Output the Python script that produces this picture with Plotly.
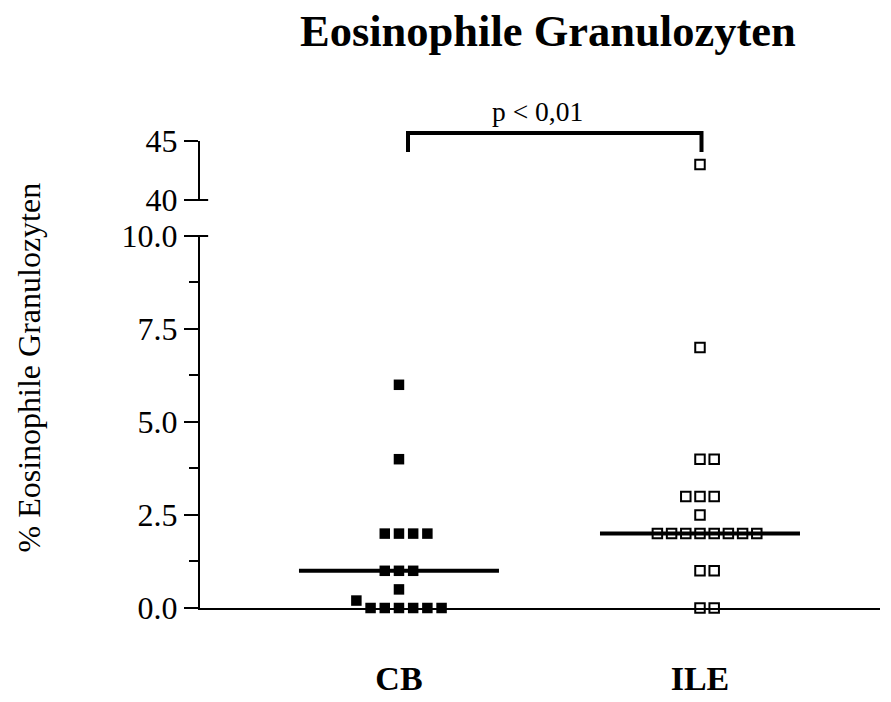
import numpy as np
import plotly.graph_objects as go

# ---------------- data ----------------
categories = ["CB", "ILE"]
cb_values = [6, 4, 2, 2, 2, 2, 1, 1, 1, 0.5, 0, 0, 0, 0, 0, 0, 0.2]
ile_values = [43, 7, 4, 4, 3, 3, 3, 2.5, 2, 2, 2, 2, 2, 2, 2, 2, 1, 1, 0, 0]
lower_ticks = [0, 2.5, 5.0, 7.5, 10.0]
upper_ticks = [40, 45]
title_text = "Eosinophile Granulozyten"
y_title_text = "% Eosinophile Granulozyten"
p_text = "p < 0,01"

# ---------------- layout geometry ----------------
W, H = 891, 702
ML, MR, MT, MB = 200, 11, 141, 94
PW, PH = W - ML - MR, H - MT - MB
LOW_RANGE = [0, 10]
UP_RANGE = [40, 45]
LOW_DOM = [0, 0.7966]
UP_DOM = [0.8737, 1.0]
BREAK = 10
XRANGE = [0.339, 2.598]
x_per_px = (XRANGE[1] - XRANGE[0]) / PW
SLOT = 14.2 * x_per_px
MEDIAN_HALF = 100 * x_per_px
MARK_PX = 11.5


def value_to_px(v):
    if v <= BREAK:
        dom, rng = LOW_DOM, LOW_RANGE
    else:
        dom, rng = UP_DOM, UP_RANGE
    frac = dom[0] + (dom[1] - dom[0]) * (v - rng[0]) / (rng[1] - rng[0])
    return frac * PH


def swarm_offsets(values):
    placed = []
    offs = []
    for v in values:
        ypx = value_to_px(v)
        k = 0
        while True:
            cand = 0 if k == 0 else ((k + 1) // 2 if k % 2 == 1 else -(k // 2))
            if all(not (s == cand and abs(y - ypx) < MARK_PX) for s, y in placed):
                break
            k += 1
        placed.append((cand, ypx))
        offs.append(cand * SLOT)
    return offs


fig = go.Figure()

groups = [
    (cb_values, dict(symbol="square", size=10.5, color="black")),
    (ile_values, dict(symbol="square-open", size=9.5, color="black", line=dict(width=2, color="black"))),
]

for i, (vals, mk) in enumerate(groups):
    center = i + 1
    med = float(np.median(vals))
    fig.add_trace(go.Scatter(
        x=[center - MEDIAN_HALF, center + MEDIAN_HALF], y=[med, med],
        mode="lines", line=dict(color="black", width=4),
        xaxis="x", yaxis="y", showlegend=False, hoverinfo="skip"))
    offs = swarm_offsets(vals)
    xs = [center + o for o in offs]
    lo_x = [x for x, v in zip(xs, vals) if v <= BREAK]
    lo_y = [v for v in vals if v <= BREAK]
    hi_x = [x for x, v in zip(xs, vals) if v > BREAK]
    hi_y = [v for v in vals if v > BREAK]
    fig.add_trace(go.Scatter(x=lo_x, y=lo_y, mode="markers", marker=mk,
                             xaxis="x", yaxis="y", cliponaxis=False,
                             showlegend=False, name=categories[i]))
    if hi_y:
        fig.add_trace(go.Scatter(x=hi_x, y=hi_y, mode="markers", marker=mk,
                                 xaxis="x", yaxis="y2", cliponaxis=False,
                                 showlegend=False, name=categories[i]))

serif = "Liberation Serif, Times New Roman, serif"
tickfont = dict(family=serif, size=32, color="black")

fig.update_layout(
    width=W, height=H,
    margin=dict(l=ML, r=MR, t=MT, b=MB, autoexpand=False),
    paper_bgcolor="white", plot_bgcolor="white",
    font=dict(family=serif, color="black"),
    xaxis=dict(range=XRANGE, tickvals=[1, 2],
               ticktext=["<b>%s</b>" % c for c in categories],
               tickfont=dict(family=serif, size=34, color="black"),
               ticks="", ticklabelstandoff=39, automargin=False,
               showline=True, linecolor="black", linewidth=2,
               showgrid=False, zeroline=False, anchor="y", fixedrange=True),
    yaxis=dict(range=LOW_RANGE, domain=LOW_DOM, tickvals=lower_ticks,
               tickformat=".1f", tickfont=tickfont, automargin=False,
               ticks="outside", ticklen=14, tickwidth=2, tickcolor="black",
               minor=dict(dtick=1.25, tick0=0, ticks="outside", ticklen=9,
                          tickwidth=2, tickcolor="black", showgrid=False),
               showline=True, linecolor="black", linewidth=2,
               showgrid=False, zeroline=False, anchor="x"),
    yaxis2=dict(range=UP_RANGE, domain=UP_DOM, tickvals=upper_ticks,
                tickfont=tickfont, automargin=False,
                ticks="outside", ticklen=14, tickwidth=2, tickcolor="black",
                showline=True, linecolor="black", linewidth=2,
                showgrid=False, zeroline=False, anchor="x"),
)


def py_to_paper(py):
    return (H - MB - py) / PH


# break marks on the axis
for yv in (LOW_DOM[1], UP_DOM[0]):
    fig.add_shape(type="line", xref="paper", yref="paper",
                  x0=-0.004, x1=0.012, y0=yv, y1=yv,
                  line=dict(color="black", width=2))

# significance bracket
bx0, bx1 = 1.03, 2.005
by_top, by_bot = py_to_paper(133), py_to_paper(152)
fig.add_shape(type="path", xref="x", yref="paper",
              path=f"M {bx0},{by_bot} L {bx0},{by_top} L {bx1},{by_top} L {bx1},{by_bot}",
              line=dict(color="black", width=4))

fig.add_annotation(text=p_text, xref="paper", yref="paper",
                   x=(537.5 - ML) / PW, y=py_to_paper(112), showarrow=False,
                   xanchor="center", yanchor="middle",
                   font=dict(family=serif, size=27.5, color="black"))

fig.add_annotation(text="<b>%s</b>" % title_text, xref="paper", yref="paper",
                   x=(547.5 - ML) / PW, y=py_to_paper(31), showarrow=False,
                   xanchor="center", yanchor="middle",
                   font=dict(family=serif, size=44.5, color="black"))

fig.add_annotation(text=y_title_text, xref="paper", yref="paper",
                   x=(28 - ML) / PW, y=py_to_paper(367.5), showarrow=False,
                   textangle=-90, xanchor="center", yanchor="middle",
                   font=dict(family=serif, size=32, color="black"))

fig.write_html("out.html")
